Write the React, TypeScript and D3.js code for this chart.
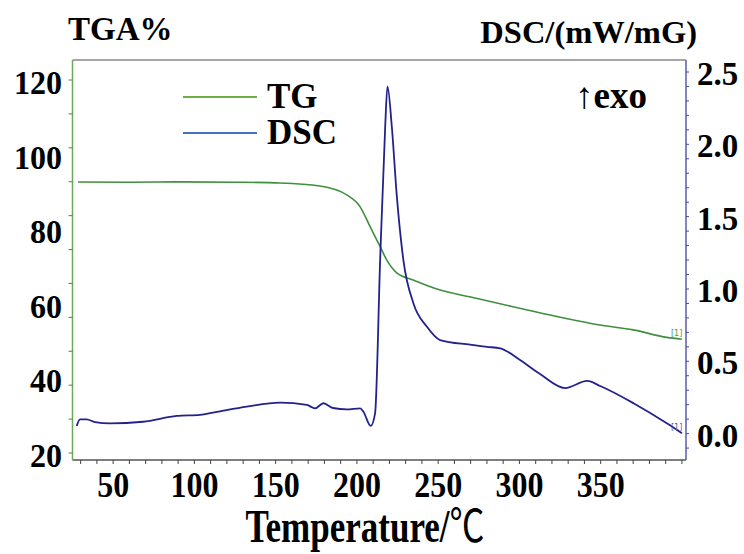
import React from 'react';
import * as d3 from 'd3';

// ---- data ----
const tgTemp = [28.4, 60, 91.2, 125, 152.7, 177.3, 193.8, 202, 208.1, 214.3, 218.4, 224.5, 234.6, 251.2, 270, 288.1, 318.9, 349.7, 370, 390.7, 400];
const tgValue = [92.65, 92.6, 92.7, 92.6, 92.4, 91.6, 89.2, 86.0, 80.7, 75.3, 71.7, 68.3, 66.4, 63.7, 61.8, 60.0, 57.0, 54.3, 53.0, 51.0, 50.5];

const dscTemp = [27.6, 29.6, 33.7, 38.8, 48.1, 68.4, 89.1, 103.5, 111.5, 132.2, 152.7, 169.2, 174.3, 179.4, 185.3, 193.8, 202, 204, 208.5, 211.2, 214.3, 217.4, 218.8, 221.5, 224.5, 228.6, 234.8, 243, 251.2, 269.7, 280, 288.1, 300.4, 312.7, 328.1, 341.7, 349.7, 370.2, 390.7, 400];
const dscValue = [0.053, 0.099, 0.099, 0.08, 0.071, 0.082, 0.122, 0.13, 0.145, 0.186, 0.214, 0.198, 0.175, 0.21, 0.177, 0.168, 0.175, 0.151, 0.053, 0.142, 1.2, 2.12, 2.4, 2.12, 1.65, 1.2, 0.9, 0.74, 0.647, 0.615, 0.6, 0.59, 0.509, 0.412, 0.315, 0.364, 0.329, 0.21, 0.071, 0.002];

const xTickLabels = [50, 100, 150, 200, 250, 300, 350];
const leftTickLabels = [120, 100, 80, 60, 40, 20];
const rightTickLabels = [2.5, 2.0, 1.5, 1.0, 0.5, 0.0];
const legendItems = [
  { name: 'TG', color: '#70ad47' },
  { name: 'DSC', color: '#4472c4' },
];

const W = 744, H = 554;
const L = 72.5, R = 686, T = 60, B = 460;
const FONT = '"Liberation Serif", "Times New Roman", serif';

export default function App() {
  const x = d3.scaleLinear().domain([25, 402.5]).range([L, R]);
  const yL = d3.scaleLinear().domain([20, 120]).range([453, 80]);
  const yR = d3.scaleLinear().domain([0, 2.5]).range([433.6, 72]);

  const tgData = tgTemp.map((t, i) => [t, tgValue[i]] as [number, number]);
  const dscData = dscTemp.map((t, i) => [t, dscValue[i]] as [number, number]);

  const tgLine = d3.line<[number, number]>().x(d => x(d[0])).y(d => yL(d[1])).curve(d3.curveMonotoneX);
  const dscLine = d3.line<[number, number]>().x(d => x(d[0])).y(d => yR(d[1])).curve(d3.curveMonotoneX);

  const xMinor = d3.range(30, 401, 10);
  const leftMinor = d3.range(12).map(i => 120 - (i * 100) / 11);
  const rightMinor = d3.range(-1, 26).map(i => i / 10);

  const tgEnd = tgData[tgData.length - 1];
  const dscEnd = dscData[dscData.length - 1];

  return (
    <svg width={W} height={H} style={{ position: 'absolute', left: 0, top: 0, background: '#fff' }} fontFamily={FONT}>
      <rect x={0} y={0} width={W} height={H} fill="#fff" />
      {/* frame */}
      <line x1={L} x2={R} y1={T} y2={T} stroke="#8a8a8a" strokeWidth={1.5} />
      <line x1={L} x2={R} y1={B} y2={B} stroke="#555" strokeWidth={1.5} />
      <line x1={L} x2={L} y1={T} y2={B} stroke="#6aaa5a" strokeWidth={1.5} />
      <line x1={R} x2={R} y1={T} y2={B} stroke="#5a5aa8" strokeWidth={1.5} />

      {/* ticks */}
      {xMinor.map(v => (
        <line key={'xt' + v} x1={x(v)} x2={x(v)} y1={B} y2={B + 4} stroke="#444" strokeWidth={1} />
      ))}
      {leftMinor.map((v, i) => (
        <line key={'lt' + i} x1={L - 4} x2={L} y1={yL(v)} y2={yL(v)} stroke="#4a8a3a" strokeWidth={1} />
      ))}
      {rightMinor.map((v, i) => (
        <line key={'rt' + i} x1={R} x2={R + 3} y1={yR(v)} y2={yR(v)} stroke="#4a4a9a" strokeWidth={1} />
      ))}

      {/* tick labels */}
      {xTickLabels.map(v => (
        <text key={'xl' + v} transform={`translate(${x(v)},497) scale(1,1.15)`} textAnchor="middle" fontSize={32} fontWeight="bold" fill="#000">{v}</text>
      ))}
      {leftTickLabels.map(v => (
        <text key={'ll' + v} transform={`translate(62,${yL(v) + 14}) scale(1,1.05)`} textAnchor="end" fontSize={32} fontWeight="bold" fill="#000">{v}</text>
      ))}
      {rightTickLabels.map(v => (
        <text key={'rl' + v} transform={`translate(697,${yR(v) + 13}) scale(1,1.05)`} textAnchor="start" fontSize={33} fontWeight="bold" fill="#000">{v.toFixed(1)}</text>
      ))}

      {/* titles */}
      <text x={68} y={40} fontSize={33} fontWeight="bold">TGA%</text>
      <text x={697} y={43} textAnchor="end" fontSize={32.5} fontWeight="bold">DSC/(mW/mG)</text>
      <text transform="translate(365,542) scale(1,1.3)" textAnchor="middle" fontSize={35} fontWeight="bold">Temperature/<tspan fontFamily='"Noto Sans CJK SC", sans-serif' fontWeight="normal">℃</tspan></text>

      {/* curves */}
      <path d={tgLine(tgData) || ''} fill="none" stroke="#3f8f3f" strokeWidth={1.6} />
      <path d={dscLine(dscData) || ''} fill="none" stroke="#22228c" strokeWidth={1.8} />

      {/* end markers */}
      <text x={x(tgEnd[0]) - 11} y={yL(tgEnd[1]) - 3} fontSize={8} fill="#4a9a4a" fontFamily="DejaVu Sans">[1]</text>
      <text x={x(dscEnd[0]) - 11} y={yR(dscEnd[1]) - 3} fontSize={8} fill="#5a5ab0" fontFamily="DejaVu Sans">[1]</text>

      {/* legend */}
      {legendItems.map((it, i) => (
        <g key={it.name} transform={`translate(0, ${97 + i * 36})`}>
          <line x1={183} x2={257} y1={0} y2={0} stroke={it.color} strokeWidth={2.2} />
          <text x={267} y={11} fontSize={35} fontWeight="bold">{it.name}</text>
        </g>
      ))}

      {/* exo marker */}
      <text x={575} y={108} fontSize={37} fontWeight="bold">↑exo</text>
    </svg>
  );
}
